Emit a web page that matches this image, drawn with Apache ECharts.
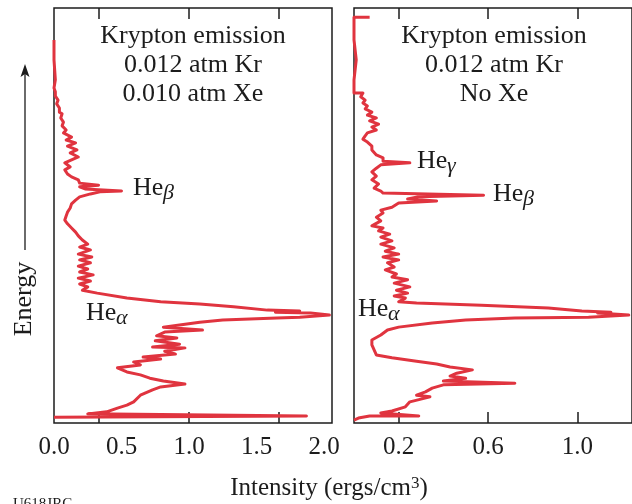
<!DOCTYPE html>
<html>
<head>
<meta charset="utf-8">
<script src="https://cdn.jsdelivr.net/npm/echarts@6/dist/echarts.min.js"></script>
<style>
  html, body { margin: 0; padding: 0; background: #fff; }
  #chart { width: 632px; height: 504px; }
</style>
</head>
<body>
<div id="chart"></div>
<script>
// Krypton emission spectra: intensity (ergs/cm^3) against energy (arbitrary units, 0-100)

// Panel 1: 0.012 atm Kr with 0.010 atm Xe
const withXeEnergy = [
  92.3, 87.5, 82.7, 80.7, 79.8, 78.8, 77.8, 76.9, 75.9, 74.9,
  74.5, 73.5, 72.5, 71.6, 70.6, 69.9, 68.9, 68.2, 67.5, 66.7,
  65.8, 65.1, 64.1, 63.4, 62.7, 61.7, 61.0, 60.0, 59.3, 58.6,
  57.8, 57.3, 56.9, 56.4, 55.9, 55.7, 55.2, 54.5, 53.7, 52.8,
  51.8, 50.8, 49.9, 48.9, 48.0, 47.0, 46.0, 45.1, 44.1, 43.1,
  42.4, 41.7, 40.7, 40.0, 39.3, 38.6, 37.8, 37.1, 36.4, 35.7,
  34.9, 34.2, 33.5, 32.8, 32.0, 31.3, 30.1, 29.2, 28.7, 28.0,
  27.2, 27.0, 26.7, 26.5, 26.0, 25.5, 25.3, 24.8, 24.3, 23.6,
  23.1, 22.4, 21.9, 21.0, 20.5, 19.8, 19.0, 18.3, 18.1, 17.3,
  16.6, 15.9, 15.4, 14.7, 14.0, 13.3, 12.3, 11.6, 10.8, 10.1,
  9.4, 8.7, 8.0, 6.7, 5.1, 4.3, 3.6, 2.7, 2.2, 1.7,
  1.4
];
const withXeIntensity = [
  0.00, 0.00, 0.01, 0.00, 0.01, 0.01, 0.03, 0.02, 0.04, 0.04,
  0.06, 0.05, 0.07, 0.06, 0.09, 0.07, 0.13, 0.09, 0.16, 0.10,
  0.17, 0.12, 0.18, 0.13, 0.08, 0.12, 0.08, 0.10, 0.13, 0.18,
  0.19, 0.33, 0.19, 0.23, 0.50, 0.34, 0.27, 0.19, 0.16, 0.13,
  0.12, 0.10, 0.09, 0.08, 0.10, 0.13, 0.16, 0.18, 0.21, 0.25,
  0.19, 0.27, 0.18, 0.28, 0.19, 0.27, 0.18, 0.25, 0.19, 0.29,
  0.18, 0.27, 0.19, 0.25, 0.21, 0.32, 0.54, 0.79, 1.08, 1.33,
  1.58, 1.82, 1.64, 1.90, 2.04, 1.82, 1.65, 1.25, 1.08, 0.93,
  0.81, 1.10, 0.82, 0.76, 0.91, 0.75, 0.93, 0.73, 0.97, 0.82,
  0.90, 0.66, 0.79, 0.59, 0.64, 0.47, 0.54, 0.64, 0.71, 0.81,
  0.97, 0.79, 0.73, 0.64, 0.59, 0.54, 0.47, 0.39, 0.25, 1.87,
  0.00
];

// Panel 2: 0.012 atm Kr, no Xe
const noXeEnergy = [
  97.8, 97.8, 92.3, 87.5, 82.7, 79.5, 79.5, 78.6, 77.8, 77.1,
  76.4, 75.7, 74.9, 74.2, 73.5, 72.8, 72.0, 71.3, 70.6, 69.9,
  69.2, 68.4, 67.7, 66.7, 65.8, 64.6, 63.9, 63.1, 62.7, 62.2,
  61.4, 60.5, 59.5, 58.6, 57.6, 56.6, 55.9, 55.4, 54.9, 54.5,
  54.0, 53.5, 53.0, 52.0, 51.3, 50.6, 49.6, 48.7, 47.5, 47.0,
  46.3, 45.5, 44.8, 43.9, 43.1, 42.2, 41.4, 40.7, 40.0, 39.3,
  38.6, 37.6, 36.9, 35.9, 35.2, 34.5, 33.7, 32.8, 32.0, 31.3,
  30.6, 30.1, 29.2, 28.9, 28.4, 27.7, 27.0, 26.7, 26.5, 26.0,
  25.5, 25.3, 24.8, 24.1, 23.1, 22.4, 21.2, 20.0, 18.8, 17.6,
  16.4, 15.7, 14.9, 14.2, 13.5, 12.8, 12.0, 11.3, 10.8, 10.1,
  9.6, 9.2, 8.4, 7.5, 6.7, 6.3, 5.1, 3.9, 2.9, 2.4,
  1.7, 1.7, 1.2, 0.7
];
const noXeIntensity = [
  0.07, 0.00, 0.00, 0.01, 0.00, 0.00, 0.04, 0.03, 0.05, 0.04,
  0.06, 0.05, 0.08, 0.06, 0.10, 0.07, 0.11, 0.08, 0.10, 0.06,
  0.05, 0.04, 0.06, 0.08, 0.08, 0.10, 0.13, 0.13, 0.25, 0.12,
  0.10, 0.08, 0.10, 0.08, 0.11, 0.09, 0.12, 0.13, 0.58, 0.29,
  0.24, 0.37, 0.20, 0.17, 0.12, 0.13, 0.10, 0.12, 0.08, 0.13,
  0.11, 0.16, 0.12, 0.17, 0.12, 0.18, 0.14, 0.20, 0.13, 0.20,
  0.15, 0.18, 0.14, 0.19, 0.17, 0.24, 0.18, 0.25, 0.19, 0.24,
  0.18, 0.23, 0.20, 0.28, 0.57, 0.87, 1.02, 1.15, 1.09, 1.23,
  1.05, 0.72, 0.50, 0.35, 0.20, 0.15, 0.12, 0.08, 0.08, 0.09,
  0.10, 0.17, 0.28, 0.37, 0.43, 0.53, 0.46, 0.43, 0.50, 0.40,
  0.72, 0.40, 0.35, 0.32, 0.28, 0.34, 0.25, 0.23, 0.17, 0.12,
  0.29, 0.07, 0.02, 0.00
];

// Axis ticks and tick labels
const withXeTicks = [1 / 3, 1, 5 / 3];
const withXeTickLabels = [0, 0.5, 1.0, 1.5, 2.0];
const noXeTicks = [0.2, 0.6, 1.0];
const noXeTickLabels = [0.2, 0.6, 1.0];

const withXeTitle = ['Krypton emission', '0.012 atm Kr', '0.010 atm Xe'];
const noXeTitle = ['Krypton emission', '0.012 atm Kr', 'No Xe'];

const SERIF = '"Liberation Serif", "Times New Roman", serif';
const INK = '#1c1c1c';
const RED = '#e0343f';

const zip = (xs, ys) => xs.map((x, i) => [x, ys[i]]);

function intensityAxis(gridIndex, max, ticks, labels, position) {
  return {
    type: 'value', gridIndex, min: 0, max, position,
    axisLine: { show: false },
    splitLine: { show: false },
    axisTick: {
      show: true, inside: true, length: 11, customValues: ticks,
      lineStyle: { color: INK, width: 1.5 }
    },
    axisLabel: labels ? {
      show: true, customValues: labels,
      formatter: v => Number(v).toFixed(1),
      fontFamily: SERIF, fontSize: 25, color: INK, margin: 12
    } : { show: false }
  };
}

function energyAxis(gridIndex) {
  return {
    type: 'value', gridIndex, min: 0, max: 100,
    axisLine: { show: false }, axisTick: { show: false },
    axisLabel: { show: false }, splitLine: { show: false }
  };
}

function textEl(text, x, y, opts, extra) {
  return Object.assign({
    type: 'text', x, y, silent: true,
    style: Object.assign({
      text, fontFamily: SERIF, fontSize: 26, fill: INK,
      align: 'center', verticalAlign: 'middle'
    }, opts || {})
  }, extra || {});
}

// "He" with a subscripted Greek letter
function lineName(greek, x, baseline) {
  return [
    textEl('He', x, baseline - 8.8, { align: 'left' }),
    textEl(greek, x + 30, baseline + 4 - 7.4, { align: 'left', fontSize: 22, fontStyle: 'italic' })
  ];
}

const titleEls = [];
[[withXeTitle, 193], [noXeTitle, 494]].forEach(([lines, cx]) => {
  lines.forEach((t, i) => titleEls.push(textEl(t, cx, 36 + i * 29.2)));
});

const chart = echarts.init(document.getElementById('chart'), null, { renderer: 'canvas' });

chart.setOption({
  animation: false,
  backgroundColor: '#fff',
  grid: [
    { left: 54, top: 8, width: 278, height: 415, show: true, borderColor: INK, borderWidth: 1.5 },
    { left: 354, top: 8, width: 280, height: 415, show: true, borderColor: INK, borderWidth: 1.5 }
  ],
  xAxis: [
    intensityAxis(0, 278 / 135, withXeTicks, withXeTickLabels, 'bottom'),
    intensityAxis(0, 278 / 135, withXeTicks, null, 'top'),
    intensityAxis(1, 280 / 225, noXeTicks, noXeTickLabels, 'bottom'),
    intensityAxis(1, 280 / 225, noXeTicks, null, 'top')
  ],
  yAxis: [energyAxis(0), energyAxis(1)],
  series: [
    {
      type: 'line', xAxisIndex: 0, yAxisIndex: 0,
      data: zip(withXeIntensity, withXeEnergy),
      showSymbol: false, symbol: 'none', silent: true,
      lineStyle: { color: RED, width: 3, join: 'round' }
    },
    {
      type: 'line', xAxisIndex: 2, yAxisIndex: 1,
      data: zip(noXeIntensity, noXeEnergy),
      showSymbol: false, symbol: 'none', silent: true,
      lineStyle: { color: RED, width: 3, join: 'round' }
    }
  ],
  graphic: [
    ...titleEls,
    ...lineName('β', 133, 197),
    ...lineName('α', 86, 322),
    ...lineName('γ', 417, 170),
    ...lineName('β', 493, 203),
    ...lineName('α', 358, 318),
    // energy axis arrow
    { type: 'line', silent: true, shape: { x1: 25, y1: 250, x2: 25, y2: 72 }, style: { stroke: INK, lineWidth: 1.3 } },
    { type: 'polygon', silent: true, shape: { points: [[25, 64], [20.5, 77], [25, 74], [29.5, 77]] }, style: { fill: INK } },
    // caption reads bottom-to-top
    textEl('Energy', 24, 299, {}, { rotation: Math.PI / 2 }),
    {
      type: 'text', x: 329, y: 488, silent: true,
      style: {
        text: '{m|Intensity (ergs/cm}{s|3}{m|)}',
        align: 'center', verticalAlign: 'middle',
        rich: {
          m: { fontFamily: SERIF, fontSize: 25, fill: INK },
          s: { fontFamily: SERIF, fontSize: 17, fill: INK, verticalAlign: 'top' }
        }
      }
    },
    textEl('U618JRC', 13, 497, { fontSize: 15, align: 'left', verticalAlign: 'top' })
  ]
});
</script>
</body>
</html>
